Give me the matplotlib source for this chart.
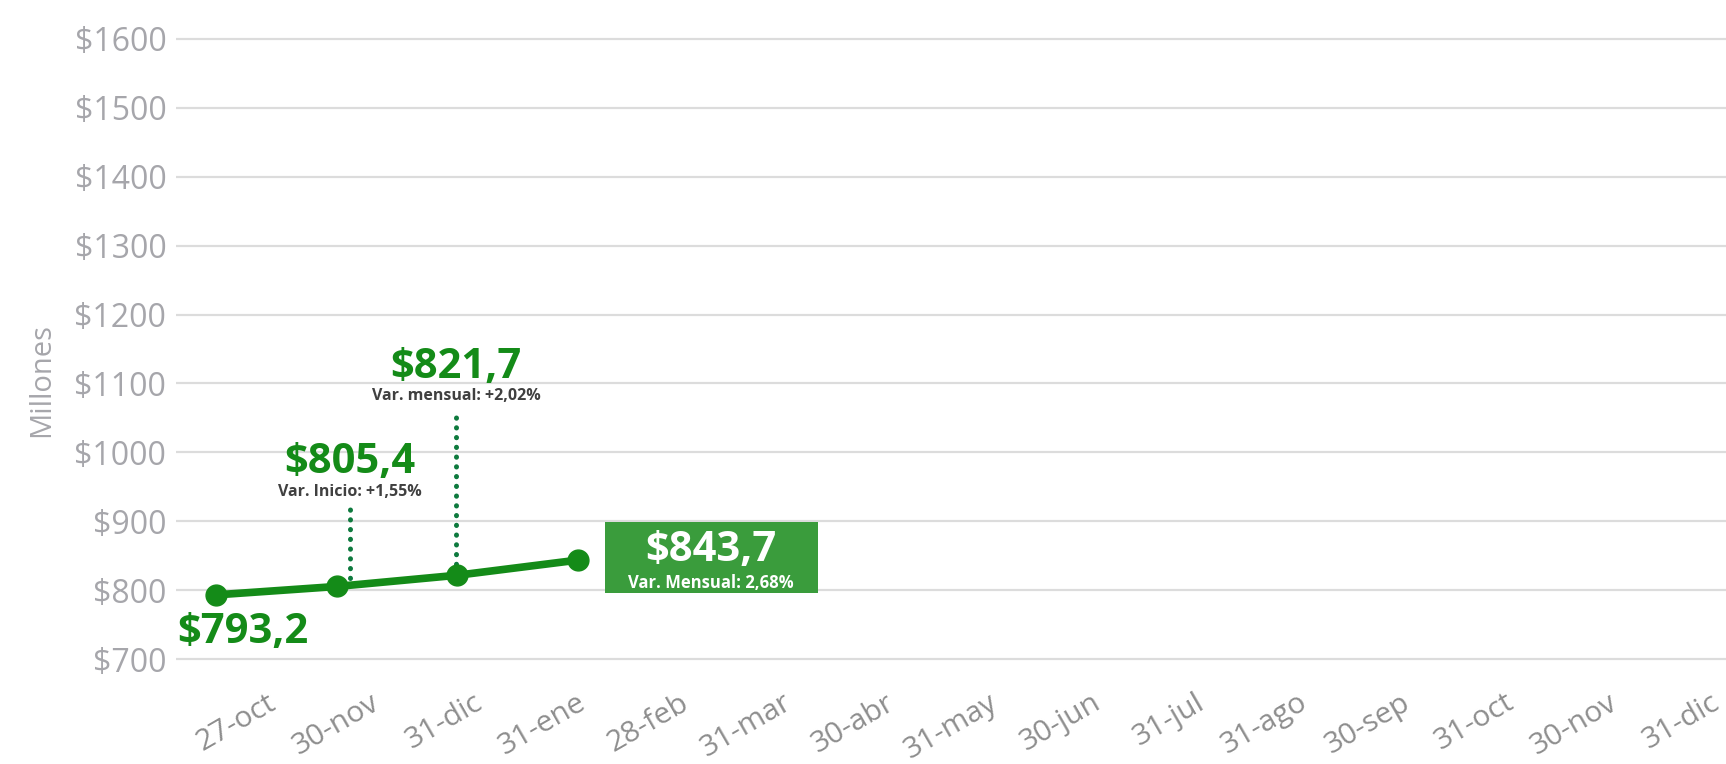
import matplotlib
matplotlib.use('Agg')
import matplotlib.pyplot as plt
import matplotlib.patches as mpatches
import matplotlib.transforms as mtransforms
from matplotlib.lines import Line2D

fechas = ['27-oct', '30-nov', '31-dic', '31-ene', '28-feb', '31-mar', '30-abr', '31-may',
          '30-jun', '31-jul', '31-ago', '30-sep', '31-oct', '30-nov', '31-dic']
valores = [793.2, 805.4, 821.7, 843.7]
etiquetas = ['$793,2', '$805,4', '$821,7', '$843,7']
subtitulos = ['', 'Var. Inicio: +1,55%', 'Var. mensual: +2,02%', 'Var. Mensual: 2,68%']
y_ticks = [700, 800, 900, 1000, 1100, 1200, 1300, 1400, 1500, 1600]

verde = '#148b18'
verde_caja = '#3a9c3c'
verde_puntos = '#0e7a3e'
gris = '#a6a6ab'
gris_x = '#8e8e8e'
fuente = 'Open Sans'

W, H = 1726, 764
fig = plt.figure(figsize=(W / 100, H / 100), dpi=100)
ax = fig.add_axes([176 / W, 98 / H, 1550 / W, 634 / H])

ax.set_ylim(690, 1610)
ax.set_yticks(y_ticks)
ax.set_yticklabels(['$%d' % v for v in y_ticks], fontsize=23, color=gris, family=fuente)
ax.yaxis.grid(True, color='#dcdcdc', linewidth=1.6)
ax.set_axisbelow(True)

ax.set_xlim(-0.95, 14.08)
ax.set_xticks(range(len(fechas)))
ax.set_xticklabels(fechas, rotation=30, ha='right', va='center', rotation_mode='anchor',
                   fontsize=21.5, color=gris_x, family=fuente)
ax.tick_params(axis='both', length=0)
ax.tick_params(axis='y', pad=7)
ax.tick_params(axis='x', pad=25)
for s in ax.spines.values():
    s.set_visible(False)

fig.text(42 / W, 1 - 380 / H, 'Millones', rotation=90, ha='center', va='center',
         fontsize=21, color=gris, family=fuente)

# serie en eje secundario (espaciado distinto al de las etiquetas)
ax2 = ax.twiny()
ax2.set_xlim(-0.331, 12.51)
ax2.set_ylim(690, 1610)
ax2.set_xticks([])
for s in ax2.spines.values():
    s.set_visible(False)

xs = list(range(len(valores)))
ax2.plot(xs, valores, color=verde, linewidth=5.5, marker='o', markersize=15, zorder=3)

ident = mtransforms.IdentityTransform()

# primer valor
ax2.annotate(etiquetas[0], xy=(0, valores[0]), xytext=(27, -38), textcoords='offset pixels',
             ha='center', va='center', fontsize=30, fontweight='bold', color=verde, family=fuente)

# valores con linea punteada
offs = [None, (13, 124, 94, 8, 77), (-1, 208, 179, 11, 162)]
for j in (1, 2):
    dx, dy_big, dy_small, y0, y1 = offs[j]
    ax2.annotate(etiquetas[j], xy=(j, valores[j]), xytext=(dx, dy_big), textcoords='offset pixels',
                 ha='center', va='center', fontsize=30, fontweight='bold', color=verde, family=fuente)
    ax2.annotate(subtitulos[j], xy=(j, valores[j]), xytext=(dx, dy_small), textcoords='offset pixels',
                 ha='center', va='center', fontsize=11.5, fontweight='bold', color='#404040',
                 family=fuente)
    p = ax2.transData.transform((j, valores[j]))
    ln = Line2D([p[0] + dx, p[0] + dx], [p[1] + y0, p[1] + y1], transform=ident,
                color=verde_puntos, linewidth=3.6, linestyle=(0, (0.05, 1.9)),
                dash_capstyle='round', clip_on=False)
    ax2.add_line(ln)

# ultimo valor en caja
p = ax2.transData.transform((3, valores[3]))
caja = mpatches.Rectangle((p[0] + 133 - 106.5, p[1] + 3 - 35.5), 213, 71, transform=ident,
                          facecolor=verde_caja, edgecolor='none', clip_on=False, zorder=4)
ax2.add_patch(caja)
ax2.annotate(etiquetas[3], xy=(3, valores[3]), xytext=(133, 10), textcoords='offset pixels',
             ha='center', va='center', fontsize=30, fontweight='bold', color='white',
             family=fuente, zorder=5)
ax2.annotate(subtitulos[3], xy=(3, valores[3]), xytext=(133, -23), textcoords='offset pixels',
             ha='center', va='center', fontsize=12, fontweight='bold', color='white',
             family=fuente, zorder=5)

fig.savefig('out.png', dpi=100)
